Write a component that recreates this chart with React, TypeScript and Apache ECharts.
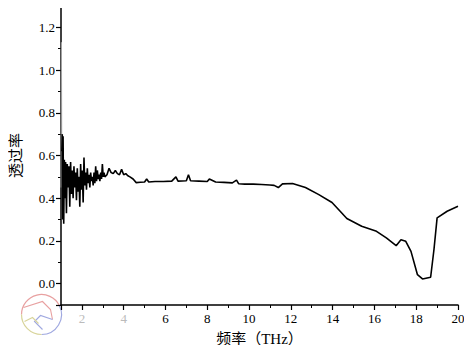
import React, { useEffect, useRef } from "react";
import * as echarts from "echarts";

const freqSpike: number[] = [1.0, 1.02, 1.04];
const transSpike: number[] = [0.45, 1.13, 0.62];

const freqNoisy: number[] = [
  1.04, 1.06, 1.08, 1.1, 1.13, 1.16, 1.19, 1.22, 1.26, 1.3, 1.34, 1.38, 1.42, 1.46, 1.5, 1.54, 1.58, 1.62,
  1.66, 1.7, 1.74, 1.78, 1.82, 1.86, 1.9, 1.94, 1.98, 2.02, 2.06, 2.1, 2.14, 2.18, 2.22, 2.26, 2.3, 2.34, 2.38, 2.42,
  2.46, 2.5, 2.54, 2.58, 2.62, 2.66, 2.7, 2.74, 2.78, 2.82, 2.86, 2.9, 2.94, 2.98, 3.02, 3.06, 3.1,
];
const transNoisy: number[] = [
  0.62, 0.7, 0.3, 0.69, 0.28, 0.58, 0.4, 0.57, 0.33, 0.56, 0.45, 0.55, 0.36, 0.57, 0.42, 0.53, 0.4, 0.55,
  0.45, 0.52, 0.39, 0.54, 0.43, 0.5, 0.36, 0.56, 0.44, 0.53, 0.38, 0.59, 0.46, 0.52, 0.44, 0.54, 0.47, 0.51, 0.45, 0.52,
  0.48, 0.5, 0.46, 0.52, 0.47, 0.55, 0.48, 0.53, 0.49, 0.51, 0.48, 0.52, 0.49, 0.56, 0.5, 0.52, 0.5,
];

const freqSmooth: number[] = [
  3.2, 3.3, 3.4, 3.5, 3.6, 3.7, 3.8, 3.9, 4.0, 4.1, 4.2, 4.3, 4.45, 4.6, 4.8, 5.0, 5.1, 5.2, 5.5, 5.9, 6.3, 6.5, 6.6,
  7.0, 7.1, 7.2, 7.6, 8.0, 8.1, 8.4, 8.8, 9.2, 9.4, 9.5, 9.8, 10.2, 10.6, 11.0, 11.2, 11.4, 11.6, 12.08, 12.7, 13.34,
  13.97, 14.36, 14.68, 15.39, 16.1, 16.57, 17.04, 17.27, 17.5, 17.75, 18.06, 18.3, 18.69, 18.85, 19.0, 19.48, 20.0,
];
const transSmooth: number[] = [
  0.51, 0.54, 0.52, 0.515, 0.53, 0.515, 0.51, 0.535, 0.51, 0.515, 0.505, 0.5, 0.49, 0.473, 0.475, 0.476, 0.49, 0.476,
  0.478, 0.478, 0.48, 0.5, 0.48, 0.482, 0.51, 0.482, 0.48, 0.478, 0.49, 0.476, 0.474, 0.472, 0.485, 0.468, 0.466, 0.466,
  0.464, 0.462, 0.46, 0.45, 0.467, 0.469, 0.45, 0.417, 0.38, 0.339, 0.305, 0.269, 0.245, 0.214, 0.178, 0.206, 0.198,
  0.151, 0.042, 0.022, 0.03, 0.16, 0.308, 0.339, 0.362,
];

const xTickLabels: number[] = [2, 4, 6, 8, 10, 12, 14, 16, 18, 20];
const fadedLabels: number[] = [2, 4];

export default function App() {
  const ref = useRef<HTMLDivElement>(null);
  useEffect(() => {
    if (!ref.current) return;
    const chart = echarts.init(ref.current, null, { renderer: "svg" });
    const data: number[][] = [];
    freqNoisy.forEach((f, i) => data.push([f, transNoisy[i]]));
    freqSmooth.forEach((f, i) => data.push([f, transSmooth[i]]));
    const spike: number[][] = freqSpike.map((f, i) => [f, transSpike[i]]);
    const font = "'Liberation Serif', 'Noto Sans CJK SC', serif";
    chart.setOption({
      animation: false,
      backgroundColor: "#ffffff",
      grid: { left: 55, right: 14, top: 6, bottom: 48 },
      xAxis: {
        type: "value",
        min: 1,
        max: 20,
        splitNumber: 10,
        name: "频率（THz）",
        nameLocation: "middle",
        nameGap: 26,
        nameTextStyle: { fontFamily: font, fontSize: 15, color: "#000" },
        axisLine: { show: true, onZero: false, lineStyle: { color: "#000", width: 1.5 } },
        axisTick: { show: true, length: 5, lineStyle: { color: "#000", width: 1.2 } },
        minorTick: { show: true, splitNumber: 2, length: 3, lineStyle: { color: "#000", width: 1 } },
        splitLine: { show: false },
        axisLabel: {
          showMinLabel: false,
          fontFamily: font,
          fontSize: 13,
          color: "#000",
          margin: 7,
          formatter: (v: number) => {
            if (!xTickLabels.includes(v)) return "";
            return fadedLabels.includes(v) ? `{f|${v}}` : String(v);
          },
          rich: { f: { color: "#bbbbbb", fontFamily: font, fontSize: 13 } },
        },
      },
      yAxis: {
        type: "value",
        min: -0.1,
        max: 1.3,
        splitNumber: 7,
        name: "透过率",
        nameLocation: "middle",
        nameGap: 38,
        nameTextStyle: { fontFamily: font, fontSize: 15, color: "#000" },
        axisLine: { show: true, onZero: false, lineStyle: { color: "#000", width: 1.5 } },
        axisTick: { show: true, length: 5, lineStyle: { color: "#000", width: 1.2 } },
        minorTick: { show: true, splitNumber: 2, length: 3, lineStyle: { color: "#000", width: 1 } },
        splitLine: { show: false },
        axisLabel: {
          showMinLabel: false,
          showMaxLabel: false,
          fontFamily: font,
          fontSize: 13,
          color: "#000",
          margin: 6,
          formatter: (v: number) => v.toFixed(1),
        },
      },
      series: [
        {
          type: "line",
          data: spike,
          symbol: "none",
          lineStyle: { color: "#aaaaaa", width: 0.8 },
          clip: true,
          z: 1,
        },
        {
          type: "line",
          data,
          symbol: "none",
          lineStyle: { color: "#000", width: 1.6 },
          clip: true,
          z: 2,
        },
      ],
      graphic: [
        {
          type: "group",
          left: 19,
          top: 292,
          silent: true,
          children: [
            { type: "arc", shape: { cx: 21, cy: 21, r: 20, startAngle: Math.PI * 1.0, endAngle: Math.PI * 1.85 }, style: { stroke: "#e8a0a0", lineWidth: 1.2, fill: "none" } },
            { type: "arc", shape: { cx: 21, cy: 21, r: 20, startAngle: Math.PI * -0.15, endAngle: Math.PI * 0.5 }, style: { stroke: "#9fa8e0", lineWidth: 1.2, fill: "none" } },
            { type: "arc", shape: { cx: 21, cy: 21, r: 20, startAngle: Math.PI * 0.5, endAngle: Math.PI * 1.0 }, style: { stroke: "#d8d49a", lineWidth: 1.2, fill: "none" } },
            { type: "polyline", shape: { points: [[3, 14], [22, 8], [30, 16], [32, 26]] }, style: { stroke: "#e8a0a0", lineWidth: 1.1, fill: "none" } },
            { type: "polyline", shape: { points: [[32, 26], [20, 22], [14, 28], [22, 36]] }, style: { stroke: "#9fa8e0", lineWidth: 1.1, fill: "none" } },
            { type: "polyline", shape: { points: [[4, 28], [12, 24], [18, 30]] }, style: { stroke: "#d8d49a", lineWidth: 1.1, fill: "none" } },
          ],
        },
      ],
    });
    return () => chart.dispose();
  }, []);
  return <div ref={ref} style={{ width: 472, height: 353, margin: -8 }} />;
}
